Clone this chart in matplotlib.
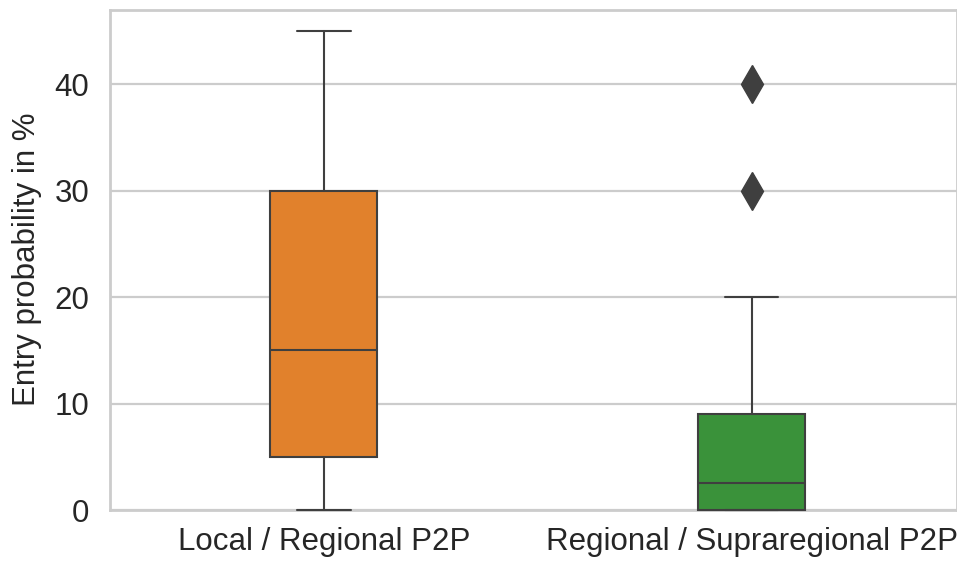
import numpy as np
import matplotlib
matplotlib.use("Agg")
import matplotlib.pyplot as plt
import seaborn as sns

# box statistics per market type (entry probability in %)
groups = ["Local / Regional P2P", "Regional / Supraregional P2P"]
whisker_low = [0, 0]
q1 = [5, 0]
median = [15, 2.5]
q3 = [30, 9]
whisker_high = [45, 20]
outliers = [[], [30, 40]]
yticks = [0, 10, 20, 30, 40]

sns.set_theme(style="whitegrid")
plt.rcParams["font.family"] = ["Liberation Sans", "DejaVu Sans"]

pal = sns.color_palette("tab10")
colors = [sns.desaturate(pal[1], 0.75), sns.desaturate(pal[2], 0.75)]
line_col = "#3f3f3f"

stats = []
for i, name in enumerate(groups):
    stats.append(dict(label=name, whislo=whisker_low[i], q1=q1[i], med=median[i],
                      q3=q3[i], whishi=whisker_high[i], fliers=outliers[i]))

fig = plt.figure(figsize=(9.57, 5.63), dpi=100)
ax = fig.add_axes([110 / 957, 53 / 563, 847 / 957, 500.5 / 563])

bp = ax.bxp(stats, positions=range(len(groups)), widths=0.25, capwidths=0.125,
            patch_artist=True, manage_ticks=False,
            boxprops=dict(edgecolor=line_col, linewidth=1.5),
            whiskerprops=dict(color=line_col, linewidth=1.5),
            capprops=dict(color=line_col, linewidth=1.5),
            medianprops=dict(color=line_col, linewidth=1.5),
            flierprops=dict(marker="d", markersize=19, markerfacecolor=line_col,
                            markeredgecolor=line_col, linestyle="none"))
for patch, c in zip(bp["boxes"], colors):
    patch.set_facecolor(c)
for key in ["boxes", "whiskers", "caps", "medians", "fliers"]:
    for art in bp[key]:
        art.set_clip_on(False)
        art.set_zorder(3)

ax.set_xlim(-0.5, 1.48)
ax.set_ylim(0, 47)
ax.set_xticks(range(len(groups)))
ax.set_xticklabels(groups)
ax.set_yticks(yticks)
ax.grid(axis="x", visible=False)
ax.grid(axis="y", color="#cccccc", linewidth=1.6)
for s in ax.spines.values():
    s.set_color("#cccccc")
    s.set_linewidth(2)
    s.set_zorder(2)
ax.tick_params(axis="both", labelsize=22.5, colors="#262626", length=0)
ax.tick_params(axis="y", pad=15)
ax.tick_params(axis="x", pad=12)
ax.set_ylabel("Entry probability in %", fontsize=22.5, color="#262626", labelpad=9)
ax.set_axisbelow(True)

fig.savefig("out.png", dpi=100)
